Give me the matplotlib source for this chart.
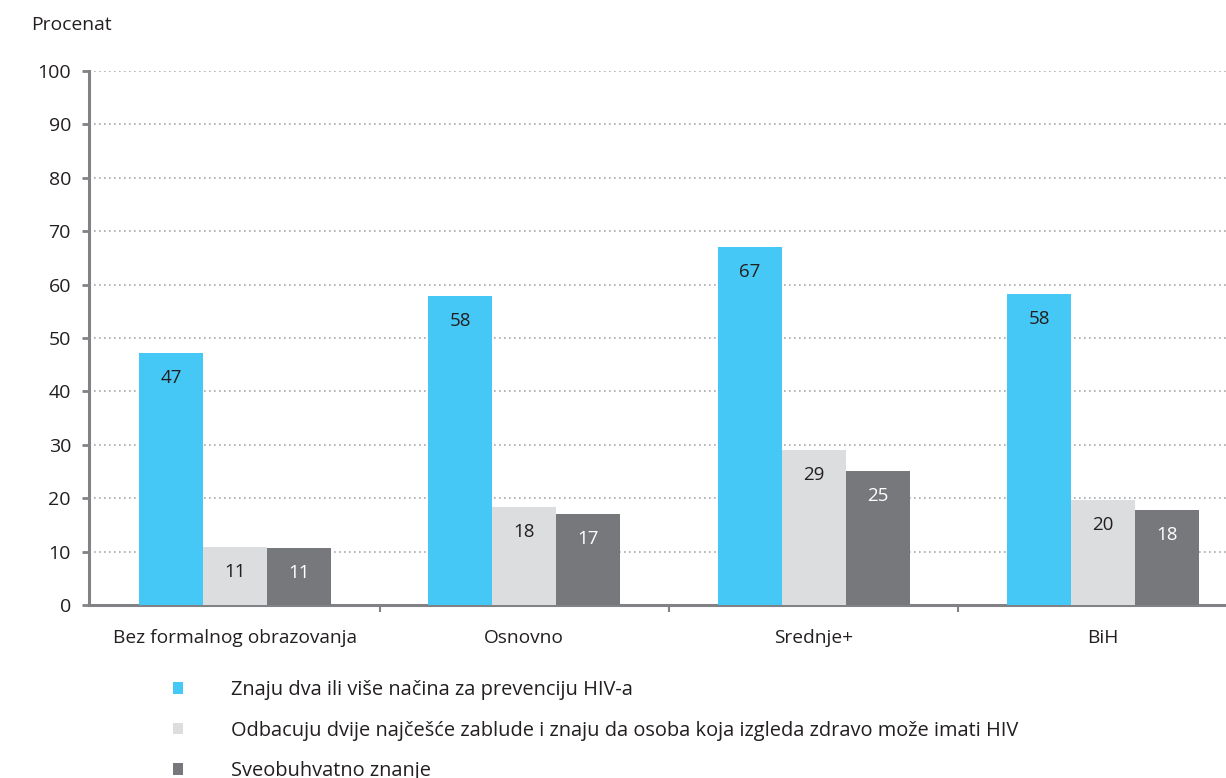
import numpy as np
import matplotlib
matplotlib.use('Agg')
import matplotlib.pyplot as plt

plt.rcParams['font.family'] = ['Open Sans', 'DejaVu Sans']

categories = ['Bez formalnog obrazovanja', 'Osnovno', 'Srednje+', 'BiH']
series_names = ['Znaju dva ili više načina za prevenciju HIV-a',
                'Odbacuju dvije najčešće zablude i znaju da osoba koja izgleda zdravo može imati HIV',
                'Sveobuhvatno znanje']
prevention = [47.2, 57.9, 67.0, 58.2]
misconceptions = [10.9, 18.4, 29.0, 19.7]
comprehensive = [10.7, 17.0, 25.1, 17.8]
labels_prev = ['47', '58', '67', '58']
labels_misc = ['11', '18', '29', '20']
labels_comp = ['11', '17', '25', '18']

colors = ['#45C8F5', '#DCDDDF', '#77787B']
text_colors = ['#231F20', '#231F20', '#FFFFFF']

fig = plt.figure(figsize=(12.26, 7.78), dpi=100)
ax = fig.add_axes([0.0726, 0.2224, 0.9274, 0.6863])

x = np.arange(len(categories))
w = 0.221
data = [prevention, misconceptions, comprehensive]
labs = [labels_prev, labels_misc, labels_comp]
handles = []
for i in range(3):
    bars = ax.bar(x + (i - 1) * w, data[i], w, color=colors[i], zorder=3,
                  label=series_names[i])
    handles.append(bars)
    for b, t in zip(bars, labs[i]):
        ax.annotate(t, (b.get_x() + b.get_width() / 2, b.get_height()),
                    xytext=(0, -18), textcoords='offset points',
                    ha='center', va='center', fontsize=13.5, color=text_colors[i],
                    zorder=4)

ax.set_ylim(0, 100)
ax.set_xlim(-0.504, 3.425)
ax.set_yticks(range(0, 101, 10))
ax.yaxis.grid(True, linestyle=(0, (1, 2)), color='#A7A9AC', linewidth=1.2, zorder=0)
ax.set_axisbelow(True)

for s in ['top', 'right']:
    ax.spines[s].set_visible(False)
ax.spines['left'].set_color('#808285')
ax.spines['left'].set_linewidth(2.2)
ax.spines['bottom'].set_color('#808285')
ax.spines['bottom'].set_linewidth(2.2)

ax.tick_params(axis='y', length=5, width=2, color='#808285', labelsize=14,
               labelcolor='#231F20', pad=8)
ax.set_xticks([0.5, 1.5, 2.5])
ax.set_xticklabels([])
ax.set_xticks(x, minor=True)
ax.set_xticklabels(categories, minor=True)
ax.tick_params(axis='x', which='major', length=5, width=1.5, color='#808285')
ax.tick_params(axis='x', which='minor', length=0, pad=17, labelsize=13.8,
               labelcolor='#231F20')

fig.text(0.025, 0.968, 'Procenat', fontsize=13.9, color='#231F20', va='center')

fig.legend(handles=handles, labels=series_names, loc='upper left',
           bbox_to_anchor=(0.141, 0.126), frameon=False, fontsize=14.4,
           handlelength=0.5, handleheight=0.5, handletextpad=2.4,
           labelspacing=1.03, borderpad=0, borderaxespad=0,
           labelcolor='#231F20')

fig.savefig('out.png', dpi=100)
